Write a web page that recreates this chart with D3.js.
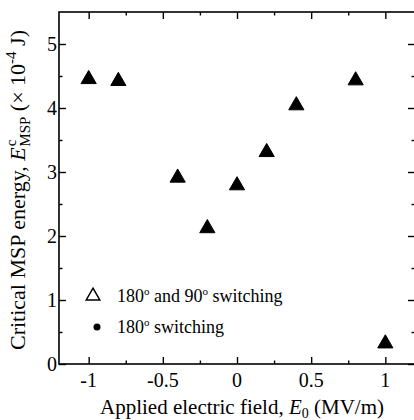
<!DOCTYPE html>
<html>
<head>
<meta charset="utf-8">
<script src="https://d3js.org/d3.v7.min.js"></script>
</head>
<body style="margin:0">
<script>
// data
var fieldValues = [-1, -0.8, -0.4, -0.2, 0, 0.2, 0.4, 0.8, 1];
var energyValues = [4.45, 4.42, 2.91, 2.12, 2.79, 3.31, 4.04, 4.43, 0.32];
var xTicks = [-1, -0.5, 0, 0.5, 1];
var xTickLabels = ["-1", "-0.5", "0", "0.5", "1"];
var yTicks = [0, 1, 2, 3, 4, 5];
var legendLabels = ["180° and 90° switching", "180° switching"];

var w = 414, h = 420;
var plotLeft = 59, plotRight = 415, plotTop = 12, plotBottom = 364;

var x = d3.scaleLinear().domain([-1.2, 1.2]).range([plotLeft, plotRight]);
var y = d3.scaleLinear().domain([0, 5.5]).range([plotBottom, plotTop]);

var svg = d3.select("body").append("svg")
  .attr("width", w).attr("height", h);

// all text in Times-like serif
function label(sel) {
  return sel.style("font-family", "'Liberation Serif'").attr("fill", "#000");
}

// frame
svg.append("rect")
  .attr("x", plotLeft).attr("y", plotTop)
  .attr("width", plotRight - plotLeft).attr("height", plotBottom - plotTop)
  .attr("fill", "none").attr("stroke", "#000").attr("stroke-width", 1.6);

// minor ticks
var xMinor = [-0.75, -0.25, 0.25, 0.75];
var yMinor = [0.5, 1.5, 2.5, 3.5, 4.5];

function tickGroup(g, axis, size, tickVals) {
  g.call(axis.tickValues(tickVals).tickSize(-size).tickSizeOuter(0).tickFormat(""));
  g.select(".domain").remove();
  g.selectAll("line").attr("stroke", "#000").attr("stroke-width", 1.4);
  g.selectAll("text").remove();
  g.attr("font-family", null).attr("font-size", null);
}

tickGroup(svg.append("g").attr("transform", "translate(0," + plotBottom + ")"), d3.axisBottom(x), 7, xTicks);
tickGroup(svg.append("g").attr("transform", "translate(0," + plotBottom + ")"), d3.axisBottom(x), 3.5, xMinor);
tickGroup(svg.append("g").attr("transform", "translate(0," + plotTop + ")"), d3.axisTop(x), 7, xTicks);
tickGroup(svg.append("g").attr("transform", "translate(0," + plotTop + ")"), d3.axisTop(x), 3.5, xMinor);
tickGroup(svg.append("g").attr("transform", "translate(" + plotLeft + ",0)"), d3.axisLeft(y), 7, yTicks);
tickGroup(svg.append("g").attr("transform", "translate(" + plotLeft + ",0)"), d3.axisLeft(y), 3.5, yMinor);
tickGroup(svg.append("g").attr("transform", "translate(" + plotRight + ",0)"), d3.axisRight(y), 7, yTicks);
tickGroup(svg.append("g").attr("transform", "translate(" + plotRight + ",0)"), d3.axisRight(y), 3.5, yMinor);

// tick labels
label(svg.selectAll(".xlab").data(xTicks).enter().append("text"))
  .attr("x", function(d){ return x(d); })
  .attr("y", plotBottom + 23)
  .attr("text-anchor", "middle")
  .style("font-size", "20px")
  .text(function(d, i){ return xTickLabels[i]; });

label(svg.selectAll(".ylab").data(yTicks).enter().append("text"))
  .attr("x", plotLeft - 2)
  .attr("y", function(d){ return y(d) + 7; })
  .attr("text-anchor", "end")
  .style("font-size", "20px")
  .text(function(d){ return d; });

// axis titles
var xt = label(svg.append("text"))
  .attr("x", 242).attr("y", 414)
  .attr("text-anchor", "middle")
  .style("font-size", "21px");
xt.append("tspan").text("Applied electric field, ");
xt.append("tspan").style("font-style", "italic").text("E");
xt.append("tspan").style("font-size", "14px").attr("dy", 4).text("0");
xt.append("tspan").attr("dy", -4).text(" (MV/m)");

var yt = label(svg.append("text"))
  .attr("transform", "translate(25,190) rotate(-90)")
  .attr("text-anchor", "middle")
  .style("font-size", "22px");
yt.append("tspan").text("Critical MSP energy, ");
yt.append("tspan").style("font-style", "italic").text("E");
yt.append("tspan").style("font-size", "15px").attr("dy", -9).attr("dx", 1).text("c");
yt.append("tspan").style("font-size", "15px").attr("dy", 14).attr("dx", -7).text("MSP");
yt.append("tspan").attr("dy", -5).text(" (× 10");
yt.append("tspan").style("font-size", "15px").attr("dy", -9).text("-4");
yt.append("tspan").attr("dy", 9).text(" J)");

// markers
var tri = d3.symbol().type(d3.symbolTriangle).size(100);
svg.selectAll(".pt").data(fieldValues).enter().append("path")
  .attr("d", tri)
  .attr("transform", function(d, i){ return "translate(" + x(d) + "," + y(energyValues[i]) + ")"; })
  .attr("fill", "#000")
  .attr("stroke", "#000")
  .attr("stroke-width", 1);

// legend
var lg = svg.append("g");
lg.append("path")
  .attr("d", d3.symbol().type(d3.symbolTriangle).size(80))
  .attr("transform", "translate(93,296)")
  .attr("fill", "none").attr("stroke", "#000").attr("stroke-width", 1.5);
lg.append("circle")
  .attr("cx", 97).attr("cy", 327).attr("r", 3.5)
  .attr("fill", "#000");

legendLabels.forEach(function(s, i) {
  var t = label(lg.append("text"))
    .attr("x", 117).attr("y", 302 + i * 31)
    .style("font-size", "18px");
  var parts = s.split("°");
  parts.forEach(function(p, j) {
    var sp = t.append("tspan").text(p);
    if (j > 0) sp.attr("dy", 7);
    if (j < parts.length - 1) {
      t.append("tspan").style("font-size", "11px").attr("dy", -7).text("o");
    }
  });
});
</script>
</body>
</html>
